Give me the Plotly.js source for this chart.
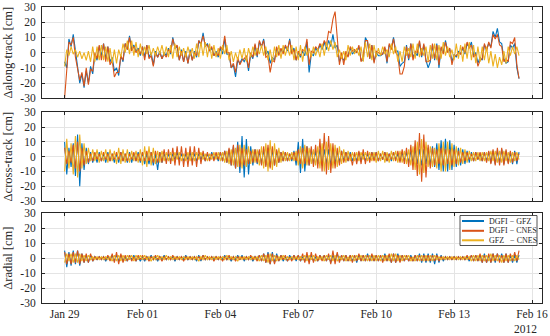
<!DOCTYPE html>
<html><head><meta charset="utf-8">
<script src="https://cdn.plot.ly/plotly-3.0.1.min.js"></script>
<style>html,body{margin:0;padding:0;background:#fff}#chart{width:550px;height:336px}</style>
</head><body><div id="chart"></div>
<script>
const seriesNames = ['DGFI \u2212 GFZ', 'DGFI \u2212 CNES', 'GFZ\u00a0\u00a0\u00a0\u2212 CNES'];
const seriesColors = ['#0072BD', '#D95319', '#EDB120'];
const panelTitles = ['\u0394along-track [cm]', '\u0394cross-track [cm]', '\u0394radial [cm]'];
const sampleStart = Date.UTC(2012, 0, 29, 0, 0, 0);
const sampleStepHours = 2;
const xTickDates = ['2012-01-29', '2012-02-01', '2012-02-04', '2012-02-07', '2012-02-10', '2012-02-13', '2012-02-16'];
const xTickLabels = ['Jan 29', 'Feb 01', 'Feb 04', 'Feb 07', 'Feb 10', 'Feb 13', 'Feb 16'];
const yearLabel = '2012';
const yTickValues = [-30, -20, -10, 0, 10, 20, 30];
const yTickLabels = ['-30', '-20', '-10', '0', '10', '20', '30'];

// Along-track differences [cm], one row per day (2-hourly)
const alongDGFI_GFZ = [
-6,-10,9,4,12,0,-8,-20,-14,-23,-12,-20,
-9,-14,-1,-5,4,-2,6,-4,4,-6,-3,-12,
-10,-15,-2,-6,6,2,11,2,5,1,3,-2,
4,-3,5,-3,0,-8,1,-3,1,-4,0,-2,
3,-1,10,3,4,-5,2,-6,1,-7,2,-5,
1,-3,8,5,13,4,6,1,3,-2,1,-3,
3,-1,9,-1,-1,-10,-8,-16,-5,-7,-4,-6,
-3,-12,-1,-4,5,-3,7,4,9,-1,1,-7,
-3,-5,3,-1,2,0,4,1,9,0,3,-5,
0,-3,1,-2,7,-13,-1,-2,3,1,5,2,
7,2,8,4,12,3,5,-6,-3,-5,-2,-2,
3,-1,1,0,4,-5,-5,10,7,-4,5,-6,
0,-2,-2,-1,3,-7,5,3,10,1,1,-9,
-7,-6,5,-5,6,-3,0,-2,7,-3,5,-5,
-10,-6,5,-5,6,-10,3,0,8,1,2,-6,
-1,-3,1,-1,3,-1,6,3,7,-2,0,-7,
-3,-5,5,2,6,4,14,10,16,7,6,-4,
-7,-6,5,3,6,-10,-17];
const alongDGFI_CNES = [
-30,-10,7,5,10,-3,-10,-18,-13,-22,-10,-21,
-11,-12,0,-4,5,-5,6,-6,4,-8,-5,-16,
-13,-13,-2,-5,6,2,10,1,4,0,2,-1,
4,-5,5,-4,-2,-9,0,-3,0,-4,-1,-3,
2,0,9,3,5,-5,1,-6,0,-7,1,-5,
0,-2,8,6,11,5,5,1,4,-2,0,-2,
4,2,11,0,0,-10,-7,-13,-3,-8,-5,-4,
-2,-10,0,-3,6,-2,8,4,8,-3,-2,-13,
-5,-6,4,-2,3,-1,5,2,8,-1,2,-5,
1,-2,2,1,9,-8,1,0,4,2,6,3,
8,5,14,13,22,27,10,-8,0,-8,1,-3,
4,1,2,0,5,-6,-2,8,8,-4,5,-7,
1,0,-1,-1,4,-6,6,2,9,0,-2,-14,
-14,-9,4,-4,6,-5,1,0,8,-2,6,-6,
-6,-5,6,-4,5,-8,4,-1,7,0,3,-8,
-2,-2,0,-1,4,0,7,3,5,-3,-1,-9,
-5,-4,6,1,7,3,12,9,12,5,4,-6,
-4,-6,7,6,10,-8,-17];
const alongGFZ_CNES = [
-9,2,-2,4,-1,2,-3,1,-4,0,-5,1,
-6,4,-6,4,-5,5,-5,4,-6,3,-7,2,
-7,2,-3,6,0,8,-1,8,-2,7,-3,6,
-2,4,-1,5,-2,3,-2,4,-1,5,-2,4,
-3,5,-4,6,-3,4,-2,3,-3,4,-2,3,
-4,6,-3,7,-2,7,-3,6,-4,5,-3,3,
-4,5,-1,5,-5,1,-6,0,-5,2,-4,3,
-6,3,-3,4,-2,3,-1,5,-2,4,-5,2,
-6,4,-3,5,-4,5,-2,4,-2,5,-5,4,
-5,5,-6,4,-2,3,-3,4,-2,3,-3,6,
-2,7,1,8,2,7,-3,2,-4,1,-5,5,
-2,4,-1,3,-2,4,-6,7,-3,6,-5,5,
-3,3,-2,4,-1,2,-3,6,-1,4,-6,1,
-6,4,-2,3,-3,6,-4,6,-3,3,-2,4,
-6,5,-4,6,-5,5,-4,7,-2,4,-3,2,
-5,6,-4,5,-6,6,-4,7,-5,5,-7,4,
-6,4,-5,4,-7,1,-9,-1,-10,-3,-8,1,
-7,4,-2,4,-1,4,-2];

// Cross-track differences [cm]
const crossDGFI_GFZ = [
10,-12,6,-7,9,-13,15,-20,9,-9,6,-5,
3,-4,2,-4,3,-3,2,-4,3,-3,2,-4,
2,-4,3,-3,2,-4,3,-4,2,-3,3,-4,
3,-5,2,-5,3,-6,2,-9,3,-4,2,-3,
2,-3,2,-2,3,-2,2,-3,2,-2,3,-3,
2,-3,2,-2,2,-3,2,-2,3,-2,2,-3,
3,-3,4,-4,5,-6,7,-8,10,-11,14,-14,
12,-12,7,-6,5,-5,4,-5,5,-6,6,-7,
5,-6,4,-4,3,-3,3,-3,2,-3,4,-6,
10,-11,12,-10,7,-6,5,-5,4,-5,5,-6,
5,-5,5,-6,5,-5,4,-4,4,-3,3,-3,
3,-3,2,-3,3,-3,2,-3,2,-2,3,-2,
3,-3,2,-2,3,-3,2,-3,3,-2,2,-3,
3,-3,3,-4,4,-4,5,-5,5,-6,5,-5,
6,-6,7,-7,9,-9,11,-10,12,-10,11,-9,
8,-7,6,-6,5,-5,4,-4,3,-3,3,-2,
2,-3,3,-3,3,-4,4,-5,4,-4,5,-5,
4,-4,3,-5,4,-5,3];
const crossDGFI_CNES = [
6,-5,4,-4,8,-8,10,-10,6,-6,4,-4,
2,-3,3,-2,2,-3,3,-2,2,-3,2,-2,
3,-2,3,-3,2,-3,2,-2,3,-3,2,-3,
3,-3,4,-3,3,-4,4,-4,3,-4,5,-5,
5,-5,6,-6,7,-6,7,-7,6,-7,7,-6,
7,-7,6,-5,4,-3,3,-3,2,-3,3,-2,
3,-3,4,-4,6,-6,8,-8,8,-7,6,-6,
5,-5,4,-4,5,-4,5,-6,7,-7,8,-8,
7,-6,5,-4,3,-3,3,-3,2,-2,3,-3,
5,-5,6,-5,7,-6,7,-7,8,-8,12,-10,
16,-12,14,-11,9,-8,6,-6,4,-4,3,-3,
2,-6,3,-5,4,-5,5,-5,4,-4,3,-3,
3,-3,2,-2,3,-3,2,-2,3,-3,4,-4,
5,-5,6,-7,8,-9,11,-13,16,-17,15,-14,
8,-8,6,-6,5,-5,6,-6,5,-5,5,-6,
5,-5,4,-4,3,-3,3,-2,2,-3,3,-2,
3,-3,3,-4,4,-5,5,-6,6,-6,6,-6,
5,-5,4,-4,3,-3,2];
const crossGFZ_CNES = [
-10,12,-8,9,-12,14,-14,15,-8,9,-5,6,
-3,5,-3,5,-4,4,-3,5,-4,5,-3,4,
-5,6,-5,5,-4,5,-4,4,-3,4,-4,5,
-6,7,-7,7,-6,6,-5,4,-4,4,-3,3,
-3,3,-3,3,-2,3,-3,2,-3,3,-3,3,
-3,3,-2,3,-2,2,-3,2,-2,3,-2,3,
-3,3,-4,4,-5,5,-6,6,-7,8,-8,8,
-7,7,-5,5,-4,5,-6,7,-8,9,-10,11,
-9,9,-7,6,-4,4,-3,3,-3,3,-3,4,
-6,7,-8,8,-6,6,-5,5,-6,7,-8,9,
-10,10,-9,9,-8,8,-7,7,-5,5,-4,4,
-3,3,-3,3,-3,3,-2,3,-3,3,-3,3,
-4,4,-3,4,-4,3,-4,4,-3,4,-4,4,
-4,4,-5,5,-6,7,-9,10,-12,12,-11,10,
-7,7,-7,6,-8,9,-10,10,-10,10,-9,9,
-7,7,-6,6,-5,5,-4,4,-3,3,-3,3,
-3,3,-3,3,-3,4,-3,4,-4,4,-4,4,
-3,3,-4,3,-3,3,-2];

// Radial differences [cm]
const radialDGFI_GFZ = [
5,-6,4,-5,5,-4,5,-5,3,-3,2,-3,
2,-2,1,-1,1,-1,1,-2,1,-1,2,-2,
2,-2,2,-2,1,-2,2,-1,2,-2,1,-2,
1,-2,1,-1,2,-1,1,-2,1,-1,2,-1,
1,-1,1,-2,1,-1,1,-1,2,-1,1,-1,
1,-2,2,-2,2,-1,1,-1,1,-1,1,-1,
1,-1,2,-1,1,-2,1,-1,2,-1,2,-2,
1,-1,1,-2,1,-1,2,-2,3,-3,4,-4,
4,-3,3,-2,2,-2,1,-2,2,-1,2,-2,
2,-2,1,-2,2,-2,2,-2,1,-2,2,-1,
2,-2,2,-3,2,-2,3,-2,2,-2,2,-2,
2,-2,2,-3,2,-2,2,-2,3,-2,2,-2,
2,-2,2,-2,3,-2,2,-3,3,-3,3,-2,
2,-2,2,-2,2,-2,2,-2,3,-3,3,-3,
3,-3,3,-4,3,-3,2,-2,1,-1,1,-1,
1,-1,1,-1,1,-1,1,-2,2,-2,2,-2,
2,-3,3,-3,2,-3,3,-3,3,-2,3,-3,
3,-3,2,-3,2,-3,2];
const radialDGFI_CNES = [
4,-4,3,-4,4,-3,5,-4,3,-3,3,-3,
3,-2,1,-1,1,-1,1,-1,2,-2,3,-3,
4,-4,3,-3,2,-2,2,-2,1,-2,2,-1,
2,-1,1,-2,1,-1,2,-1,1,-2,1,-1,
1,-1,2,-1,1,-1,1,-2,1,-1,1,-1,
1,-1,1,-1,2,-1,1,-1,1,-2,1,-1,
1,-2,1,-1,2,-1,1,-2,1,-1,1,-1,
1,-1,2,-1,1,-2,2,-2,3,-3,3,-4,
3,-4,2,-2,2,-1,2,-2,1,-2,2,-1,
2,-2,3,-3,4,-4,4,-3,3,-2,2,-2,
2,-2,3,-4,5,-4,4,-3,2,-2,2,-2,
2,-3,2,-2,3,-2,2,-2,2,-2,3,-2,
2,-2,2,-3,2,-2,3,-3,3,-3,2,-3,
2,-2,2,-2,1,-2,2,-2,2,-2,2,-2,
2,-2,2,-2,2,-2,1,-1,1,-1,1,-1,
1,-1,1,-1,1,-1,2,-1,2,-2,2,-2,
3,-3,2,-3,3,-3,3,-2,3,-3,2,-3,
3,-3,3,-2,4,-2,5];
const radialGFZ_CNES = [
-3,3,-2,3,-3,3,-3,3,-2,2,-2,2,
-1,1,-1,1,-1,1,-1,1,-1,1,-2,2,
-2,2,-2,2,-2,2,-1,2,-2,2,-1,2,
-1,2,-1,1,-2,1,-1,2,-1,1,-1,2,
-1,1,-1,1,-1,1,-1,1,-1,1,-1,1,
-1,1,-2,1,-1,2,-1,1,-1,1,-1,1,
-1,1,-1,2,-1,1,-1,1,-2,1,-1,1,
-1,1,-1,1,-1,1,-2,2,-2,2,-3,3,
-2,2,-2,1,-1,2,-1,1,-1,1,-1,1,
-1,1,-1,2,-2,2,-1,2,-2,1,-1,1,
-2,2,-1,2,-2,2,-2,1,-1,2,-2,1,
-2,2,-2,2,-1,2,-2,2,-2,2,-2,2,
-2,2,-2,2,-2,2,-2,3,-2,3,-2,2,
-2,2,-1,2,-2,1,-2,2,-2,2,-2,2,
-2,2,-2,2,-1,1,-1,1,-1,1,-1,1,
-1,1,-1,1,-1,1,-1,1,-2,2,-2,2,
-2,2,-2,2,-2,3,-2,2,-2,2,-3,2,
-2,2,-2,2,-2,2,-1];

const panels = [
  [alongDGFI_GFZ, alongDGFI_CNES, alongGFZ_CNES],
  [crossDGFI_GFZ, crossDGFI_CNES, crossGFZ_CNES],
  [radialDGFI_GFZ, radialDGFI_CNES, radialGFZ_CNES]
];

function sampleTimes(n) {
  const out = [];
  for (let i = 0; i < n; i++) {
    const t = new Date(sampleStart + i * sampleStepHours * 3600 * 1000);
    out.push(t.toISOString().slice(0, 19).replace('T', ' '));
  }
  return out;
}

const FONT = 'Liberation Serif';
const INK = '#262626';
const traces = [];
panels.forEach((series, p) => {
  series.forEach((vals, s) => {
    traces.push({
      type: 'scatter', mode: 'lines',
      x: sampleTimes(vals.length), y: vals,
      name: seriesNames[s],
      line: {color: seriesColors[s], width: 1.1},
      xaxis: p === 0 ? 'x' : 'x' + (p + 1),
      yaxis: p === 0 ? 'y' : 'y' + (p + 1),
      showlegend: false, hoverinfo: 'skip'
    });
  });
});

const M = {l: 42, r: 8, t: 7, b: 33};
const W = 550 - M.l - M.r, H = 336 - M.t - M.b;
const px = v => (v - M.l) / W;
const py = v => (336 - M.b - v) / H;

const domains = [[py(98.3), 1], [py(201), py(112.3)], [0, py(213.3)]];
const xRange = ['2012-01-28 03:07', '2012-02-16 09:14'];

const layout = {
  width: 550, height: 336,
  margin: M,
  paper_bgcolor: '#ffffff', plot_bgcolor: '#ffffff',
  font: {family: FONT, size: 11, color: INK},
  showlegend: false,
  shapes: [], annotations: []
};

for (let p = 0; p < 3; p++) {
  const xa = p === 0 ? 'xaxis' : 'xaxis' + (p + 1);
  const ya = p === 0 ? 'yaxis' : 'yaxis' + (p + 1);
  const yid = p === 0 ? 'y' : 'y' + (p + 1);
  const xid = p === 0 ? 'x' : 'x' + (p + 1);
  layout[xa] = {
    type: 'date', range: xRange, anchor: yid,
    tickvals: xTickDates, ticktext: xTickLabels,
    showticklabels: p === 2,
    ticks: 'inside', ticklen: 3, tickcolor: INK, tickwidth: 1,
    showline: true, linecolor: INK, linewidth: 1, mirror: 'ticks',
    showgrid: true, gridcolor: '#e4e4e4', gridwidth: 1,
    zeroline: false, tickfont: {family: FONT, size: 11.5, color: INK},
    fixedrange: true
  };
  if (p > 0) layout[xa].matches = 'x';
  layout[ya] = {
    domain: domains[p], range: [-30, 30], anchor: xid,
    tickvals: yTickValues, ticktext: yTickLabels,
    ticks: 'inside', ticklen: 3, tickcolor: INK, tickwidth: 1,
    showline: true, linecolor: INK, linewidth: 1, mirror: 'ticks',
    showgrid: true, gridcolor: '#e4e4e4', gridwidth: 1,
    zeroline: false, tickfont: {family: FONT, size: 11.5, color: INK},
    ticklabelstandoff: 3,
    title: {text: panelTitles[p], font: {family: FONT, size: 12.5, color: INK}, standoff: 4},
    automargin: false, fixedrange: true
  };
}

layout.annotations.push({
  xref: 'paper', yref: 'paper', x: 1, y: py(329), xanchor: 'right', yanchor: 'middle',
  xshift: -3, text: yearLabel, showarrow: false, font: {family: FONT, size: 11.5, color: INK}
});

const lg = {x0: 460, x1: 537, y0: 215.5, y1: 245.5, rows: [221, 230.8, 240.3], l0: 462, l1: 484, tx: 487};
layout.shapes.push({type: 'rect', xref: 'paper', yref: 'paper',
  x0: px(lg.x0), x1: px(lg.x1), y0: py(lg.y1), y1: py(lg.y0),
  line: {color: INK, width: 0.8}, fillcolor: '#ffffff', layer: 'above'});
seriesNames.forEach((nm, i) => {
  layout.shapes.push({type: 'line', xref: 'paper', yref: 'paper',
    x0: px(lg.l0), x1: px(lg.l1), y0: py(lg.rows[i]), y1: py(lg.rows[i]),
    line: {color: seriesColors[i], width: 2}, layer: 'above'});
  layout.annotations.push({xref: 'paper', yref: 'paper', x: px(lg.tx), y: py(lg.rows[i]),
    xanchor: 'left', yanchor: 'middle', text: nm, showarrow: false,
    font: {family: FONT, size: 8, color: INK}});
});

Plotly.newPlot('chart', traces, layout, {staticPlot: true, displayModeBar: false});
</script>
</body></html>
